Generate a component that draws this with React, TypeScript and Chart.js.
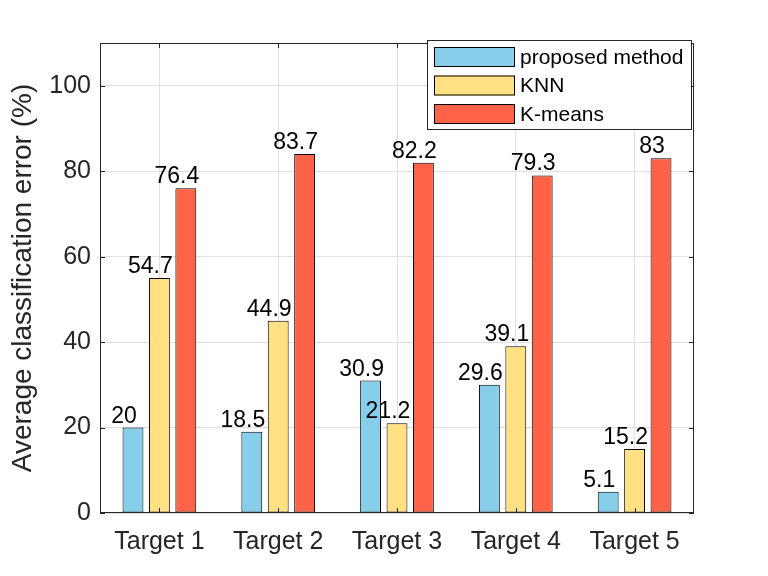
import React, { useEffect, useRef } from 'react';
import { Chart, registerables } from 'chart.js';

Chart.register(...registerables);

const categories = ['Target 1', 'Target 2', 'Target 3', 'Target 4', 'Target 5'];
const seriesNames = ['proposed method', 'KNN', 'K-means'];

// bar heights as drawn, and the numbers printed above them
const proposedValues = [20, 19, 31, 30, 5];
const knnValues = [55, 45, 21, 39, 15];
const kmeansValues = [76, 84, 82, 79, 83];

const proposedLabels = ['20', '18.5', '30.9', '29.6', '5.1'];
const knnLabels = ['54.7', '44.9', '21.2', '39.1', '15.2'];
const kmeansLabels = ['76.4', '83.7', '82.2', '79.3', '83'];

const yTicks = [0, 20, 40, 60, 80, 100];
const yTitle = 'Average classification error (%)';

const colors = ['#87CEEB', '#FFE082', '#FF6347'];
const axisColor = '#262626';
const FONT = '"Liberation Sans", Arial, sans-serif';

const barLabels = [proposedLabels, knnLabels, kmeansLabels];

// MATLAB-like box with inward ticks
const boxPlugin = {
  id: 'box',
  afterDraw(chart: any) {
    const { ctx, chartArea: a, scales } = chart;
    ctx.save();
    ctx.strokeStyle = axisColor;
    ctx.lineWidth = 1;
    ctx.strokeRect(a.left + 0.5, a.top + 0.5, a.right - a.left - 1, a.bottom - a.top - 1);
    const len = 5;
    ctx.beginPath();
    yTicks.forEach((v) => {
      const y = Math.round(scales.y.getPixelForValue(v)) + 0.5;
      ctx.moveTo(a.left, y);
      ctx.lineTo(a.left + len, y);
      ctx.moveTo(a.right, y);
      ctx.lineTo(a.right - len, y);
    });
    categories.forEach((_, i) => {
      const x = Math.round(scales.x.getPixelForValue(i)) + 0.5;
      ctx.moveTo(x, a.bottom);
      ctx.lineTo(x, a.bottom - len);
      ctx.moveTo(x, a.top);
      ctx.lineTo(x, a.top + len);
    });
    ctx.stroke();

    // y axis title
    ctx.font = `28px ${FONT}`;
    ctx.fillStyle = axisColor;
    ctx.textAlign = 'center';
    ctx.textBaseline = 'alphabetic';
    ctx.translate(31, (a.top + a.bottom) / 2);
    ctx.rotate(-Math.PI / 2);
    ctx.fillText(yTitle, 0, 0);
    ctx.restore();
  },
};

const valueLabelPlugin = {
  id: 'valueLabels',
  afterDatasetsDraw(chart: any) {
    const { ctx } = chart;
    ctx.save();
    ctx.font = `23px ${FONT}`;
    ctx.fillStyle = '#000';
    ctx.textAlign = 'center';
    ctx.textBaseline = 'alphabetic';
    chart.data.datasets.forEach((_: any, di: number) => {
      const meta = chart.getDatasetMeta(di);
      meta.data.forEach((bar: any, i: number) => {
        ctx.fillText(barLabels[di][i], bar.x - 9, bar.y - 5);
      });
    });
    ctx.restore();
  },
};

const legendPlugin = {
  id: 'boxLegend',
  afterDraw(chart: any) {
    const { ctx, chartArea: a } = chart;
    const right = a.right - 2;
    const left = right - 265;
    const top = a.top - 3;
    const height = 90;
    ctx.save();
    ctx.fillStyle = '#fff';
    ctx.fillRect(left, top, right - left, height);
    ctx.strokeStyle = axisColor;
    ctx.lineWidth = 1;
    ctx.strokeRect(left + 0.5, top + 0.5, right - left - 1, height - 1);
    ctx.font = `21px ${FONT}`;
    ctx.textBaseline = 'middle';
    ctx.textAlign = 'left';
    seriesNames.forEach((name, i) => {
      const y = top + 7 + i * 28.5;
      ctx.fillStyle = colors[i];
      ctx.fillRect(left + 7, y, 81, 20);
      ctx.strokeStyle = '#000';
      ctx.strokeRect(left + 7.5, y + 0.5, 80, 19);
      ctx.fillStyle = '#000';
      ctx.fillText(name, left + 93, y + 11);
    });
    ctx.restore();
  },
};

export default function App() {
  const chartRef = useRef<HTMLCanvasElement>(null);
  const chartInstance = useRef<Chart | null>(null);

  useEffect(() => {
    document.body.style.margin = '0';
    if (!chartRef.current) return;
    if (chartInstance.current) chartInstance.current.destroy();
    const ctx = chartRef.current.getContext('2d');
    if (!ctx) return;

    Chart.defaults.font.family = FONT;

    chartInstance.current = new Chart(ctx, {
      type: 'bar',
      data: {
        labels: categories,
        datasets: [proposedValues, knnValues, kmeansValues].map((data, i) => ({
          label: seriesNames[i],
          data,
          backgroundColor: colors[i],
          borderColor: '#000',
          borderWidth: 1,
          borderSkipped: false,
          categoryPercentage: 0.667,
          barPercentage: 0.79,
        })),
      },
      options: {
        responsive: false,
        animation: false,
        layout: { padding: { top: 43, right: 74, left: 0, bottom: 0 } },
        plugins: {
          legend: { display: false },
          tooltip: { enabled: false },
        },
        scales: {
          x: {
            offset: true,
            grid: { color: '#dfdfdf', offset: false, drawTicks: false },
            border: { display: false },
            ticks: { color: axisColor, font: { size: 25 }, padding: 14 },
            afterFit: (s: any) => {
              s.height = 63;
            },
          },
          y: {
            min: 0,
            max: 110,
            grid: { color: '#dfdfdf', drawTicks: false },
            border: { display: false },
            ticks: { color: axisColor, font: { size: 25 }, padding: 9 },
            afterBuildTicks: (s: any) => {
              s.ticks = yTicks.map((v) => ({ value: v }));
            },
            afterFit: (s: any) => {
              s.width = 100;
            },
          },
        },
      },
      plugins: [valueLabelPlugin, boxPlugin, legendPlugin],
    });

    return () => {
      if (chartInstance.current) {
        chartInstance.current.destroy();
        chartInstance.current = null;
      }
    };
  }, []);

  return (
    <div style={{ width: 768, height: 576, background: '#fff' }}>
      <canvas ref={chartRef} width={768} height={576}></canvas>
    </div>
  );
}
